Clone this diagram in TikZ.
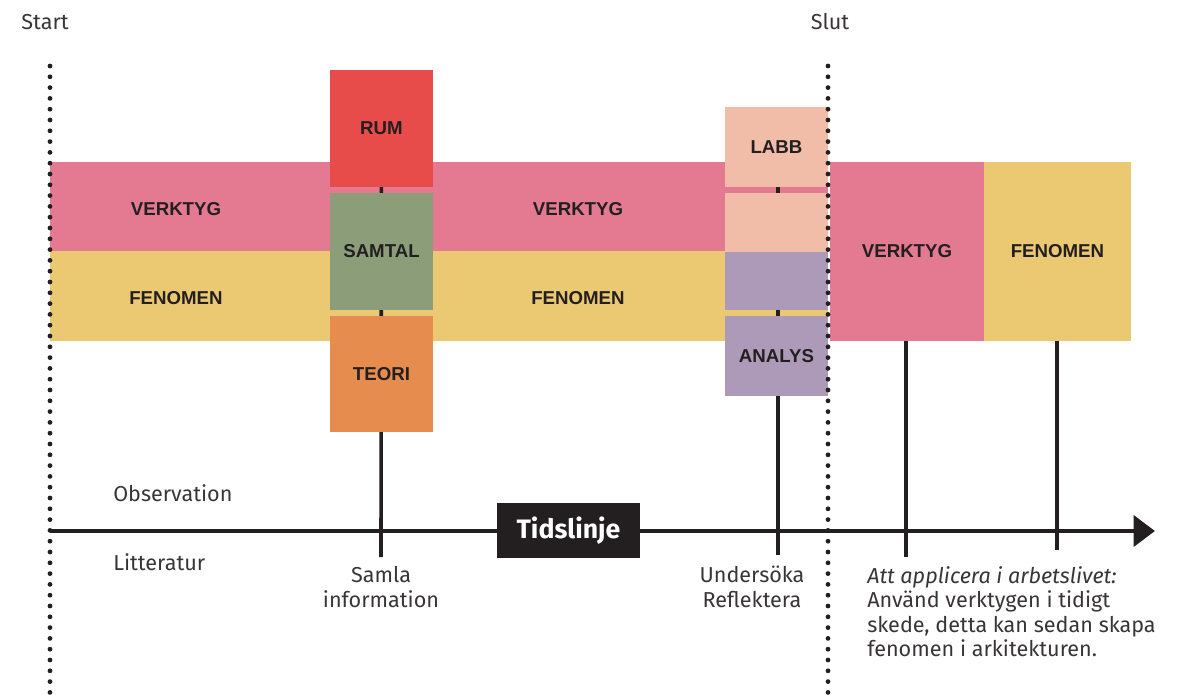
\documentclass[tikz,border=0pt]{standalone}
\usepackage{fontspec}
\setmainfont{Fira Sans}
\newfontfamily\boxfont{Liberation Sans}
\usetikzlibrary{arrows.meta}
\definecolor{verktygpink}{HTML}{E37A92}
\definecolor{fenomenyellow}{HTML}{EBC972}
\definecolor{rumred}{HTML}{E84C4A}
\definecolor{samtalgreen}{HTML}{8C9E79}
\definecolor{teoriorange}{HTML}{E68C4E}
\definecolor{labbsalmon}{HTML}{F2BDA8}
\definecolor{analyspurple}{HTML}{AD9AB8}
\definecolor{inkblack}{HTML}{231F20}
\pgfdeclarelayer{bands}
\pgfdeclarelayer{stems}
\pgfsetlayers{bands,stems,main}
\begin{document}
\begin{tikzpicture}[x=0.75pt, y=-0.75pt,
    band/.style={rectangle, inner sep=0pt, minimum width=583.5pt, minimum height=67pt},
    block/.style={rectangle, inner sep=0pt, minimum width=77.25pt, font=\boxfont\bfseries\fontsize{14}{16}\selectfont, text=inkblack},
    bandlabel/.style={font=\boxfont\bfseries\fontsize{14}{16}\selectfont, text=inkblack},
    note/.style={font=\fontsize{16.2}{18.4}\selectfont, text=inkblack!90, inner sep=0pt},
    stem/.style={line width=2.7pt, inkblack},
    dotline/.style={line width=3.6pt, inkblack, line cap=round, dash pattern=on 0pt off 8.1pt}]
\useasboundingbox (0,0) rectangle (1189,695);

% Bands
\begin{pgfonlayer}{bands}
\node[band, fill=verktygpink] (verktygband) at (439,206.5) {};
\node[band, fill=fenomenyellow] (fenomenband) at (439,296) {};
\end{pgfonlayer}
\node[bandlabel] (verktygA) at (176,209) {VERKTYG};
\node[bandlabel] (verktygB) at (578,209) {VERKTYG};
\node[bandlabel] (fenomenA) at (176,298) {FENOMEN};
\node[bandlabel] (fenomenB) at (578,298) {FENOMEN};

% Samla information
\node[block, fill=rumred, minimum height=87.75pt] (rum) at (381.5,128.5) {RUM};
\node[block, fill=samtalgreen, minimum height=87.75pt] (samtal) at (381.5,251.5) {SAMTAL};
\node[block, fill=teoriorange, minimum height=87pt] (teori) at (381.5,374) {TEORI};

% Undersoka / reflektera
\node[block, fill=labbsalmon, minimum height=60pt] (labb) at (776.5,147) {LABB};
\node[block, fill=labbsalmon, minimum height=44.25pt] (labbtwo) at (776.5,222.5) {};
\node[block, fill=analyspurple, minimum height=43.5pt] (analystwo) at (776.5,281) {};
\node[block, fill=analyspurple, minimum height=60pt] (analys) at (776.5,356) {ANALYS};

% Arbetslivet
\node[block, fill=verktygpink, minimum width=115.5pt, minimum height=134.25pt] (verktygright) at (907,251.5) {VERKTYG};
\node[block, fill=fenomenyellow, minimum width=110.25pt, minimum height=134.25pt] (fenomenright) at (1057.5,251.5) {FENOMEN};

% Stems down to the timeline
\coordinate (samlaend) at (381,557);
\coordinate (undersokend) at (778,555);
\coordinate (verktygend) at (906,557);
\coordinate (fenomenend) at (1057,550);
\begin{pgfonlayer}{stems}
\draw[stem] (rum.center) -- (samlaend);
\draw[stem] (labb.center -| undersokend) -- (undersokend);
\end{pgfonlayer}
\draw[stem] (verktygright.south -| verktygend) -- (verktygend);
\draw[stem] (fenomenright.south -| fenomenend) -- (fenomenend);

% Timeline
\coordinate (tlstart) at (50,531);
\coordinate (tlend) at (1155,531);
\draw[line width=3.4pt, inkblack, -{Triangle[length=16pt, width=23pt]}] (tlstart) -- (tlend);
\node[fill=inkblack, text=white, inner sep=0pt, minimum width=107pt, minimum height=41pt,
      font=\bfseries\fontsize{20}{22}\selectfont] (tidslinje) at (568.5,530.5) {Tidslinje};

% Start and end
\coordinate (starttop) at (50,66);
\coordinate (startbot) at (50,695);
\coordinate (sluttop) at (828,66);
\coordinate (slutbot) at (828,695);
\draw[dotline] (starttop) -- (startbot);
\draw[dotline] (sluttop) -- (slutbot);
\node[note] (start) at (45,22) {Start};
\node[note] (slut) at (830,22) {Slut};

% Texts along the timeline
\node[note, anchor=west] (observation) at (113,493) {Observation};
\node[note, anchor=west] (litteratur) at (113,562) {Litteratur};
\node[note, anchor=north, align=center] (samla) at (381,566) {Samla\\information};
\node[note, anchor=north, align=center] (undersok) at (752,566) {Undersöka\\Reflektera};
\node[note, anchor=north west, align=left] (arbetsliv) at (867,566) {\textit{Att applicera i arbetslivet:}\\Använd verktygen i tidigt\\skede, detta kan sedan skapa\\fenomen i arkitekturen.};

\end{tikzpicture}
\end{document}
